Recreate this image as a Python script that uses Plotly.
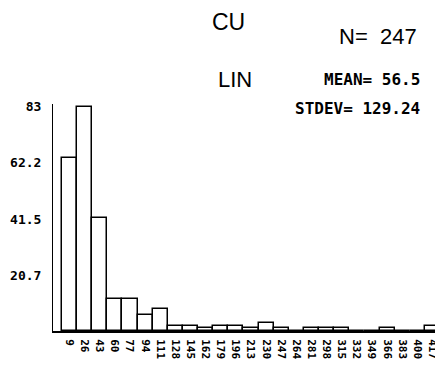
import plotly.graph_objects as go

categories = ["9", "26", "43", "60", "77", "94", "111", "128", "145", "162", "179", "196",
              "213", "230", "247", "264", "281", "298", "315", "332", "349", "366", "383",
              "400", "417"]
counts = [64, 83, 42, 12, 12, 6, 8, 2, 2, 1, 2, 2, 1, 3, 1, 0, 1, 1, 1, 0, 0, 1, 0, 0, 2]
ytick_vals = [20.75, 41.5, 62.25, 83]
ytick_text = ["20.7", "41.5", "62.2", "83"]

# page body has an 8px margin: figure origin sits at (8, 8) of the window
OFF = 8
W, H = 443 - OFF, 368 - OFF
ML, MR, MT, MB = 53 - OFF, 3, 104 - OFF, 37
PW, PH = W - ML - MR, H - MT - MB

def px(x):
    return (x - OFF - ML) / PW

def py(y):
    return (H - MB - (y - OFF)) / PH

mono = "DejaVu Sans Mono"
sans = "Liberation Sans"

fig = go.Figure(go.Bar(
    x=list(range(len(categories))),
    y=counts,
    width=1,
    marker=dict(color="white", line=dict(color="black", width=1.5)),
))

fig.update_layout(
    width=W, height=H,
    margin=dict(l=ML, r=MR, t=MT, b=MB, autoexpand=False),
    paper_bgcolor="white", plot_bgcolor="white",
    showlegend=False, bargap=0,
    xaxis=dict(
        range=[-1.095, 24.5],
        tickmode="array",
        tickvals=list(range(len(categories))),
        ticktext=categories,
        tickangle=90,
        tickfont=dict(family=mono, size=11, color="black", weight="bold"),
        showgrid=False, zeroline=False,
        showline=True, linecolor="black", linewidth=2,
        ticks="", ticklabelstandoff=4,
        automargin=False, ticklabeloverflow="allow",
    ),
    yaxis=dict(
        range=[0, PH / 2.7],
        tickmode="array",
        tickvals=ytick_vals,
        ticktext=ytick_text,
        tickfont=dict(family=mono, size=13, color="black", weight="bold"),
        showgrid=False, zeroline=False,
        showline=True, linecolor="black", linewidth=1,
        ticks="", ticklabelstandoff=8,
        automargin=False, ticklabeloverflow="allow",
    ),
)

annotations = [
    dict(text="CU", x=px(228), y=py(22), font=dict(family=sans, size=23), xanchor="center"),
    dict(text="N=  247", x=px(419), y=py(37), font=dict(family=sans, size=22), xanchor="right"),
    dict(text="LIN", x=px(235), y=py(79), font=dict(family=sans, size=22), xanchor="center"),
    dict(text="MEAN= 56.5", x=px(422), y=py(79), font=dict(family=mono, size=16, weight="bold"), xanchor="right"),
    dict(text="STDEV= 129.24", x=px(422), y=py(108), font=dict(family=mono, size=16, weight="bold"), xanchor="right"),
]
for a in annotations:
    a.update(xref="paper", yref="paper", yanchor="middle", showarrow=False)
    a["font"]["color"] = "black"
fig.update_layout(annotations=annotations)

fig.write_html("out.html")
